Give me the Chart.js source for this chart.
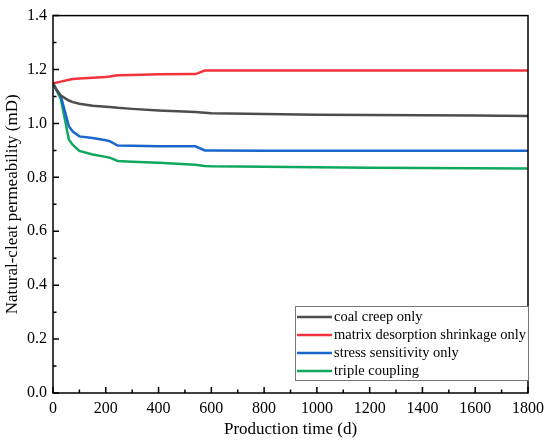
<!DOCTYPE html>
<html>
<head>
<meta charset="utf-8">
<script src="https://cdn.jsdelivr.net/npm/chart.js@4/dist/chart.umd.min.js"></script>
<style>
  html, body { margin: 0; padding: 0; background: #fff; }
  #wrap { width: 550px; height: 446px; }
</style>
</head>
<body>
<div id="wrap"><canvas id="c" width="550" height="446"></canvas></div>
<script>
const days = [0, 10, 30, 60, 75, 100, 150, 200, 215, 245, 300, 400, 540, 575, 600, 800, 1000, 1200, 1400, 1600, 1800];
const coalCreep = [1.150, 1.130, 1.103, 1.085, 1.079, 1.073, 1.066, 1.062, 1.061, 1.058, 1.054, 1.048, 1.042, 1.040, 1.038, 1.035, 1.032, 1.031, 1.030, 1.029, 1.028];
const matrixShrink = [1.150, 1.151, 1.155, 1.162, 1.165, 1.167, 1.169, 1.172, 1.174, 1.179, 1.180, 1.182, 1.183, 1.196, 1.196, 1.196, 1.196, 1.196, 1.196, 1.196, 1.196];
const stressSens = [1.150, 1.130, 1.100, 0.990, 0.970, 0.952, 0.946, 0.938, 0.934, 0.918, 0.917, 0.915, 0.915, 0.900, 0.900, 0.899, 0.899, 0.899, 0.899, 0.899, 0.899];
const tripleCoupling = [1.150, 1.130, 1.090, 0.940, 0.920, 0.898, 0.885, 0.876, 0.873, 0.861, 0.858, 0.854, 0.847, 0.842, 0.841, 0.839, 0.837, 0.836, 0.835, 0.834, 0.833];
const seriesNames = ['coal creep only', 'matrix desorption shrinkage only', 'stress sensitivity only', 'triple coupling'];
const seriesColors = ['#4d4d4d', '#f2333d', '#1a66cc', '#10a85e'];
const xTicks = [0, 200, 400, 600, 800, 1000, 1200, 1400, 1600, 1800];
const yTicks = [0.0, 0.2, 0.4, 0.6, 0.8, 1.0, 1.2, 1.4];

const FONT = "'Liberation Serif', 'Times New Roman', serif";
const allSeries = [coalCreep, matrixShrink, stressSens, tripleCoupling];

const datasets = allSeries.map((vals, i) => ({
  label: seriesNames[i],
  data: days.map((d, j) => ({ x: d, y: vals[j] })),
  borderColor: seriesColors[i],
  backgroundColor: seriesColors[i],
  borderWidth: 2.5,
  pointRadius: 0,
  tension: 0,
  fill: false
}));

const framePlugin = {
  id: 'frame',
  afterDatasetsDraw(chart) {
    const { ctx, chartArea: a, scales } = chart;
    const xs = scales.x, ys = scales.y;
    ctx.save();
    ctx.strokeStyle = '#000';
    ctx.lineWidth = 1.5;
    ctx.beginPath();
    for (let v = 0; v <= 1800; v += 100) {
      const px = xs.getPixelForValue(v);
      const len = (v % 200 === 0) ? 6 : 3.5;
      ctx.moveTo(px, a.bottom);
      ctx.lineTo(px, a.bottom - len);
    }
    for (let k = 0; k <= 14; k++) {
      const v = k / 10;
      const py = ys.getPixelForValue(v);
      const len = (k % 2 === 0) ? 6 : 3.5;
      ctx.moveTo(a.left, py);
      ctx.lineTo(a.left + len, py);
    }
    ctx.stroke();
    ctx.strokeRect(a.left, a.top, a.right - a.left, a.bottom - a.top);

    // legend
    const bx = 295, by = 306, bw = 233, bh = 74;
    ctx.fillStyle = '#fff';
    ctx.fillRect(bx, by, bw, bh);
    ctx.strokeStyle = '#777';
    ctx.lineWidth = 1;
    ctx.strokeRect(bx + 0.5, by + 0.5, bw, bh);
    ctx.font = '14.5px ' + FONT;
    ctx.textBaseline = 'middle';
    ctx.textAlign = 'left';
    chart.data.datasets.forEach((ds, i) => {
      const ry = by + 11 + i * 18;
      ctx.strokeStyle = ds.borderColor;
      ctx.lineWidth = 2.5;
      ctx.beginPath();
      ctx.moveTo(bx + 2, ry);
      ctx.lineTo(bx + 37, ry);
      ctx.stroke();
      ctx.fillStyle = '#000';
      ctx.fillText(ds.label, bx + 39, ry);
    });
    ctx.restore();
  }
};

new Chart(document.getElementById('c'), {
  type: 'line',
  data: { datasets },
  options: {
    responsive: false,
    animation: false,
    devicePixelRatio: 1,
    layout: { padding: { top: 10, right: 20, left: 0, bottom: 0 } },
    plugins: { legend: { display: false }, tooltip: { enabled: false } },
    scales: {
      x: {
        type: 'linear',
        min: 0, max: 1800,
        afterFit(s) { s.height = 53; },
        afterBuildTicks(s) { s.ticks = xTicks.map(v => ({ value: v })); },
        grid: { display: false, drawTicks: false },
        border: { display: false },
        ticks: { color: '#000', padding: 6, maxRotation: 0, font: { family: FONT, size: 16 }, callback: v => String(v) },
        title: { display: true, text: 'Production time (d)', color: '#000', font: { family: FONT, size: 17 }, padding: { top: 0, bottom: 6 } }
      },
      y: {
        type: 'linear',
        min: 0, max: 1.4,
        afterFit(s) { s.width = 53; },
        afterBuildTicks(s) { s.ticks = yTicks.map(v => ({ value: v })); },
        grid: { display: false, drawTicks: false },
        border: { display: false },
        ticks: { color: '#000', padding: 6, font: { family: FONT, size: 16 }, callback: v => Number(v).toFixed(1) },
        title: { display: true, text: 'Natural-cleat permeability (mD)', color: '#000', font: { family: FONT, size: 17 }, padding: { top: 2, bottom: 0 } }
      }
    }
  },
  plugins: [framePlugin]
});
</script>
</body>
</html>
